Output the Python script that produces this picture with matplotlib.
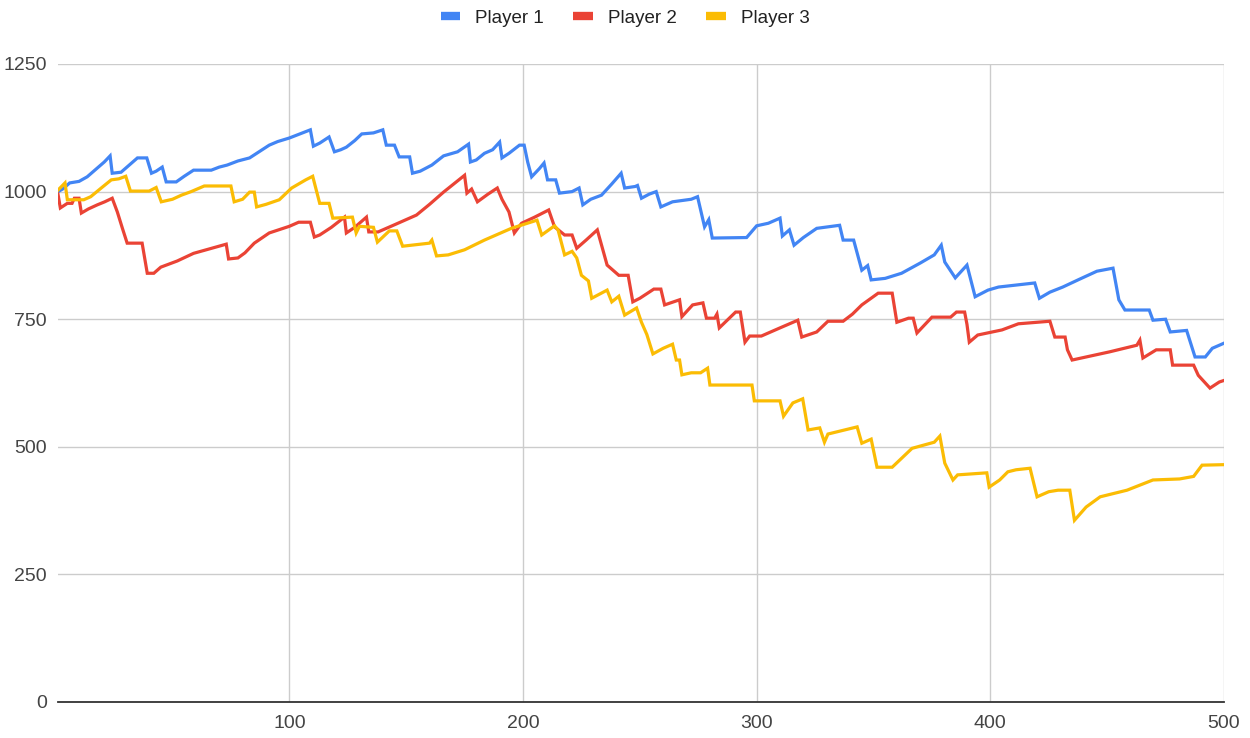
import matplotlib
matplotlib.use("Agg")
import matplotlib.pyplot as plt
from matplotlib.lines import Line2D

# ---- data ----
p1_x = [1, 3, 6, 10, 13.5, 17.8, 20.8, 23.3, 24.2, 28, 31, 35, 39, 41, 43, 45.6, 47.3, 51.6, 55, 59, 66.6, 70, 73.4, 78, 83, 87, 91.4, 95, 100, 105.6, 109, 110.3, 113, 117, 119.3, 122, 124.4, 128, 131, 136, 140, 141.5, 145, 147, 151.5, 152.7, 156, 161, 166, 172, 176.7, 177.5, 180, 183.5, 187, 190, 191, 194, 198.5, 200.5, 202, 203.7, 207, 209, 210.5, 214, 215.6, 221, 224, 225.6, 229, 233.6, 238, 242, 243.5, 248, 249, 250.7, 254, 257, 259, 264, 272, 274.7, 277.7, 279.5, 281, 295.7, 300, 305, 310, 311, 314, 316, 320, 325.7, 335.5, 337, 341.5, 345, 347.5, 349, 355, 362, 370, 376, 379, 380.5, 385, 390, 393.5, 399, 403.5, 419, 421, 425.5, 431, 438, 445.6, 452.5, 455, 457.6, 468, 469.6, 475, 477, 484, 487.6, 492, 495, 500]
p1_y = [1000, 1005, 1017, 1020, 1029, 1046, 1058, 1070, 1036, 1038, 1050, 1066, 1066, 1036, 1040, 1048, 1019, 1019, 1030, 1042, 1042, 1048, 1052, 1060, 1066, 1078, 1091, 1098, 1105, 1115, 1121, 1089, 1095, 1107, 1078, 1082, 1087, 1100, 1113, 1115, 1121, 1091, 1091, 1068, 1068, 1036, 1040, 1052, 1070, 1078, 1093, 1058, 1062, 1075, 1082, 1097, 1066, 1075, 1091, 1091, 1058, 1029, 1045, 1056, 1023, 1023, 997, 1000, 1007, 974, 985, 993, 1015, 1036, 1007, 1010, 1012, 987, 995, 1000, 970, 980, 985, 990, 931, 945, 909, 910, 933, 938, 948, 913, 925, 895, 910, 928, 934, 905, 905, 846, 855, 827, 830, 840, 860, 876, 895, 862, 831, 856, 794, 807, 813, 821, 791, 803, 813, 828, 844, 850, 788, 768, 768, 748, 750, 725, 728, 676, 676, 693, 703]

p2_x = [1, 2, 5, 7, 8, 10, 11, 14, 17.8, 21, 24.2, 26.4, 28.5, 30.6, 37, 39.2, 42, 45, 52, 59, 66, 73, 74, 78, 81, 85, 91.4, 100, 104, 109, 110.7, 113, 118, 123.6, 124.4, 128, 133, 134, 138, 145, 154.4, 160, 166, 175, 176, 178, 180.5, 185, 189, 191, 194, 196.3, 199.4, 205, 211, 213.5, 217.8, 221, 223, 227, 231.8, 236, 241, 245, 247, 250, 253, 256, 259, 260.6, 267, 268, 272.6, 277, 278.5, 282, 283, 284, 291, 293, 295, 297, 302, 310, 317.6, 319.3, 325.7, 330.5, 337, 341, 345, 352, 358, 360, 365, 367, 368.6, 375, 383, 385.5, 389, 390, 391, 394.6, 405, 412, 425.5, 427.6, 432, 433, 435, 440, 451, 462.7, 464, 465.3, 471, 477, 478, 487, 489, 494, 498, 500]
p2_y = [995, 968, 977, 977, 987, 987, 958, 966, 974, 980, 987, 960, 929, 899, 899, 840, 840, 852, 864, 879, 888, 897, 868, 870, 880, 899, 919, 932, 940, 940, 911, 915, 930, 950, 919, 930, 950, 921, 921, 935, 954, 975, 999, 1032, 997, 1005, 980, 995, 1007, 985, 960, 919, 938, 950, 964, 931, 915, 915, 889, 905, 925, 856, 836, 836, 784, 791, 800, 809, 809, 778, 788, 755, 778, 782, 752, 752, 760, 733, 764, 764, 705, 717, 717, 733, 748, 715, 725, 746, 746, 760, 778, 801, 801, 744, 752, 752, 723, 754, 754, 764, 764, 740, 705, 719, 729, 741, 746, 715, 715, 690, 670, 675, 686, 699, 709, 674, 690, 690, 660, 660, 640, 615, 627, 630]

p3_x = [1, 4, 5, 12, 15, 19.5, 23.8, 27, 30, 32, 40, 43, 45.2, 50, 53.8, 58, 63.6, 75, 76.4, 80, 83, 85, 86, 90, 95.7, 101, 107, 110, 113, 117, 118.6, 127, 128.6, 130, 136, 137.7, 142.8, 146, 148.5, 160, 161, 163, 168, 175, 183.5, 195, 206, 208, 213.5, 215, 217.8, 221, 223, 225, 228, 229.4, 236, 238, 241, 243.5, 248.6, 250.7, 253, 255.6, 260, 264, 265.6, 267, 268, 272, 276, 279, 280, 298, 299, 310, 311.5, 315.5, 319.7, 322, 327, 329, 330.5, 343, 345, 349, 351.5, 358, 366.5, 376, 378.4, 380.5, 384, 386, 398.5, 399.5, 404, 407.5, 411, 417, 420, 425, 429, 434, 436, 441, 447, 458.5, 469.6, 481, 487, 490.6, 500]
p3_y = [1003, 1017, 984, 984, 990, 1007, 1023, 1025, 1030, 1001, 1001, 1008, 980, 985, 993, 1000, 1011, 1011, 980, 985, 999, 999, 970, 975, 984, 1007, 1023, 1030, 977, 977, 948, 950, 919, 932, 930, 901, 923, 923, 893, 899, 905, 874, 876, 886, 905, 928, 944, 915, 933, 925, 876, 883, 870, 836, 825, 791, 807, 784, 795, 758, 772, 744, 720, 682, 693, 701, 670, 670, 641, 645, 645, 654, 621, 621, 590, 590, 560, 586, 594, 533, 537, 509, 525, 539, 507, 515, 460, 460, 497, 509, 521, 468, 435, 445, 449, 421, 435, 451, 455, 458, 402, 412, 415, 415, 356, 382, 402, 415, 435, 437, 442, 464, 465]

series_names = ["Player 1", "Player 2", "Player 3"]
colors = ["#4285F4", "#EA4335", "#FBBC04"]
x_ticks = [100, 200, 300, 400, 500]
y_ticks = [0, 250, 500, 750, 1000, 1250]

plt.rcParams['font.family'] = ['Liberation Sans', 'DejaVu Sans']

fig = plt.figure(figsize=(12.5, 7.38), dpi=100)
ax = fig.add_axes([58/1250, 36/738, (1224-58)/1250, (702-64)/738])

for xs, ys, c, n in zip([p1_x, p2_x, p3_x], [p1_y, p2_y, p3_y], colors, series_names):
    ax.plot(xs, ys, color=c, lw=2.3, label=n, solid_joinstyle='miter', zorder=3)

ax.set_xlim(1, 500)
ax.set_ylim(0, 1250)
ax.set_xticks(x_ticks)
ax.set_yticks(y_ticks)
ax.grid(True, color="#cccccc", lw=1)
ax.set_axisbelow(True)
for s in ["top", "right", "left"]:
    ax.spines[s].set_visible(False)
ax.spines["bottom"].set_color("#333333")
ax.spines["bottom"].set_linewidth(1.3)
ax.spines["bottom"].set_zorder(4)
ax.tick_params(length=0, labelsize=14, labelcolor="#444444")
ax.tick_params(axis='x', pad=9)
ax.tick_params(axis='y', pad=8)

handles = [Line2D([0], [0], color=c, lw=6, solid_capstyle='butt') for c in colors]
fig.legend(handles, series_names, loc='center', bbox_to_anchor=(0.5, 1 - 18/738),
           ncol=3, frameon=False, fontsize=13.5, handlelength=1.05, handletextpad=0.8,
           columnspacing=1.55, labelcolor="#222222")

fig.savefig("out.png", dpi=100)
